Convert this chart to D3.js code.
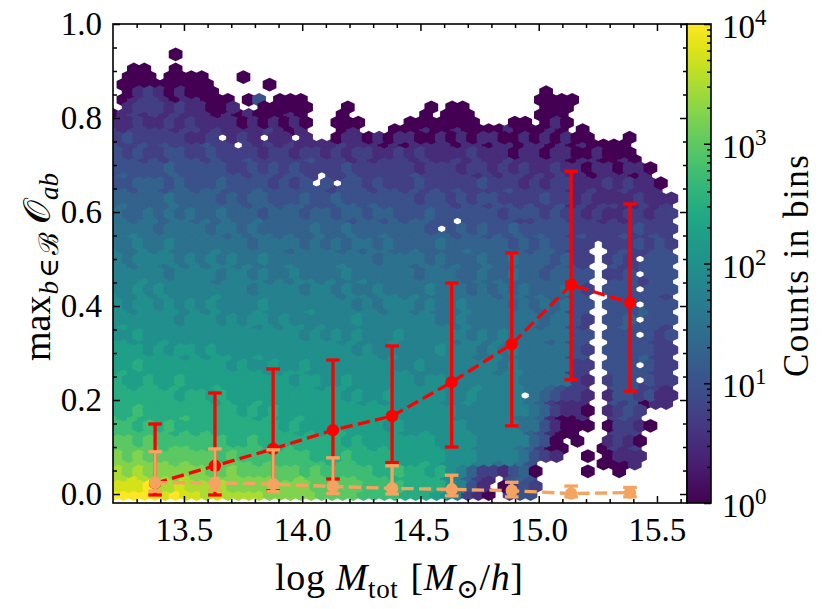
<!DOCTYPE html>
<html>
<head>
<meta charset="utf-8">
<script src="https://cdn.jsdelivr.net/npm/d3@7"></script>
<style>
  html, body { margin: 0; padding: 0; background: #fff; }
  #main-frame { width: 829px; height: 609px; }
  text { font-family: "Liberation Serif", "DejaVu Serif", serif; fill: #000; }
</style>
</head>
<body>
<div id="main-frame"></div>
<script>
// hexbin counts, one string per hex row, top row first.
// each letter is a colour step (see levelLogCounts), "." = empty bin, spaces only for reading
var hexRows = [
  ".... ..a. .... .... .... .... .... .... .... .... .... .... .... ....",
  ".... .... .... .... .... .... .... .... .... .... .... .... .... ....",
  "..aa ..a. .... .... .... .... .... .... .... .... .... .... .... ....",
  ".aaa .aaa a... a... .... .... .... .... .... .... .... .... .... ....",
  ".aaa aaaa aa.. ...a .... .... .... .... .... .... .... .... .... ....",
  ".abc baba aa.. .... .... .... .... .... .... .... .a.. .... .... ....",
  ".abc cbab baaa .ad. aaa. .... .... .... .... .... .aaa a... .... ....",
  ".bcc cbcb baab ..aa aaa. ..a. .... ..a. aa.. .... .aaa .... .... ....",
  "abcb cbcb bbab abaa aba. ..a. .... ..a. aaa. .... .aaa .... .... ....",
  "bbcb bcbc bbbb abab aba. .aaa .... aaaa aaa. ..aa .aba .... .... ....",
  "cbcc ccbc cbcb bbbc bab. ..ab ...a aaba abaa aaba aaba .a.. .... ....",
  "cdcc cccb bc.b cb.b b.b. .abb abab baab abab baab abab aa.. .a.. ....",
  "dccd cdcc cdcc .cbc bcbb bbcb bbab abbb babb abba bbab abaa aa.. ....",
  "dcdc cddc cdcc ccbc cbcc bcbc cbbc bcbb bbcb bbab babb aaba aa.. ....",
  "dddc dcdd dcdc cdcc cccd cccb cbcc cbcb bcbc bbcb bbbb abba aba. ....",
  "dddd dedd dddc cdcd cdcc ccdc cccc cbcc cbcc bcbc bbcb babb abba ....",
  "dedd dded dddd dcdd cddc .ccd cccc cdcc cccb cbcc bcbc bbab bbab ....",
  "ddee eded dded dddc dcd. d.dd cdcc cdcc cccd cccb cbcc bbbc bcbb a...",
  "eede edee deed dded dddd dcdd dcdd cdcd cdcc ccdc cccc bbcb bcbb b...",
  "eeee efee eede deed dded dedd dddd dcdd cdcd dccc cdcc bcbb bbcb bb..",
  "efee eefe eeee edee deed ddee dedd dddd dcdd cddc dccd bcbc cbbc bc..",
  "feef efef eefe eede eede edee deed dded dddd dcdd dcdc cbcb bccb cc..",
  "ffef feff efef eefe eeee eeed eede deed d.dd dddc cddd cccb cbcc cc..",
  "ffff efff feff efee eeef eefe eeee eed. dede dded dddd cccc ccdc cc..",
  "ffgf ffff fffe feff efee feef eefe eeee edee dede dedd cdcc cdcc dc..",
  "ffgf fgff ffff feff ffef efef fefe eeef eeee eede dedd cc.c ccdc dc..",
  "gffg fgff ffgf ffff feff ffef effe efee eefe eeee deed cc.. cdcc dd..",
  "gfgg ggfg fgfg ffgf ffff ffff feff ffef eeef eefe eede cc.c dc.d dd..",
  "ggfg gfgf gfgg fgff fgff ffgf ffff feff efee feee eede dc.. dccd dd..",
  "gggg gfgg ggfg gfgf fgff ffgf ffff feff feef eefe edee dd.c cd.d dd..",
  "gggh gggg ggfg gggf gfgg fgff gfff ffff ffef efee eeee cd.. dddc dd..",
  "gghg hggg gggg gfgg ggfg gfgf fgff ffgf ffef efef eeef dc.d dd.d dd..",
  "hggh ghgg gghg gggg gggg ggfg gfgg fgff ffff feff efee dd.. dddd dc..",
  "hghh ghgh ghgg gghg gggg gggf gfgg gfgf fgff ffef efef dd.d dd.d dd..",
  "hhgh hhhg hghg gghg gggh gggg ggfg gfgf ffgf ffff feef dd.. ddde dd..",
  "hhhh hhgh hhgh ghhg hggg gggh gggg gggf fgff ffff feff dc.d de.d dd..",
  "hihh hhhh hhhh hhgh ghhg hggg gggg gggg gfgf ffff feff dc.. dedd dc..",
  "hhih hhhh hhhh hhhh hhgh ghgh gggh gggg ggfg fgff ffff dd.d dd.d cd..",
  "iihh hihh hhhh hhhh hhhh hhgh gggh gggg gfgg fgff ffef dd.. dddd cc..",
  "iiih ihii hihh hhhh hhhh hhhg hggg gggh gggf gfgf ffff dc.d dddd cc..",
  "iiii iiih ihii hhih hhhh hhhh hhgh gggg gggf fgff ffff dd.. ddde cc..",
  "iiji iiii iiih ihhi hhih hhhh hhhg ghgg gggg gfgf ffff cc.d dd.d cc..",
  "ijii iiii iiii iiih hiih hhhh hhhh hggg gggg gfgg ffff cc.. dddd cc..",
  "jiij iiji iiii iiii ihii hhih hhhh hghh gggg gggf ffff cb.c dd.d cc..",
  "jjij jiji iiji iiii iiii hiih hhhh hhhh gggh gggg ffed cc.. dddc cb..",
  "jjjj jjij jiji iiii iiii iihi hhih hhhh gghg ggg. fedc cb.b ddcd bb..",
  "jjjj jjjj jjij iiji iiii iiii hihh hhhh gghg gggg fecb bb.. dcda bb..",
  "jjkj jjjj jjjj ijij iiii iiii iiih hhhh hggg gggg fecb ba.b cdc. ....",
  "kjkj jjjk jjjj jjij iiji iiii iiih hhhh hggg gggf feba ab.. cdc. ....",
  "kkjk jkjj jjjj jjjj ijii iiii iihi hhhh hhgg gggf fdba aa.a ccba ....",
  "kkkk kkjk jkjj jjjj jjij iiji iiii hhih hhhg gggg edba a... ccc. ....",
  "llkl kkkk kkkj jkjj jjjj jjij iiii iiih hhhg gggg eda. a..b cba. ....",
  "llll lkll kkkk kkkj jkjj jjjj jiji iiii hhhg gggf ecaa ...a cbc. ....",
  "mlml llll llkl kkkk kkkj jjkj jjji iiii hhhg gggf dcb. .a.a bbb. ....",
  "mmmm mmlm llll llkl kkkk kjkk jjjj iiji hhhg gfgf d... ...a aab. ....",
  "nmnm mmmm mllm llll llkl kkkk kjjk jjij hgec cbde a... .a.. a... ....",
  "nnon nnmn mmmm mmmm llml llll kkkj jjjj hgec b.de d... .... .... ....",
  "ooop nnon nnnm mmmn mmml llll kkkk jjjj hgdb .acd c... .... .... ....",
  "pqqp popo onon nnnm mmmm llll kkkk jjji hgcb a.cd d... .... .... ...."
];
var levelKeys = "abcdefghijklmnopq";
// log10(count in bin) for each key
var levelLogCounts = [0, 0.5, 0.75, 1.0, 1.25, 1.5, 1.75, 2.0, 2.25, 2.5, 2.75, 3.0, 3.25, 3.5, 3.75, 4.0, 4.0];

// lattice of the original hexbin
var binXmin = 13.2;
var binXmax = 15.627;
var binNx = 55;
var binDy = 1 / 31;

// binned medians with error bars
var massBins = [13.378, 13.631, 13.877, 14.130, 14.380, 14.632, 14.886, 15.137, 15.386];
var maxOverlap = [0.023, 0.060, 0.096, 0.136, 0.166, 0.238, 0.319, 0.445, 0.407];
var maxOverlapLo = [-0.002, -0.002, 0.007, 0.032, 0.067, 0.100, 0.145, 0.243, 0.219];
var maxOverlapHi = [0.149, 0.215, 0.266, 0.285, 0.315, 0.449, 0.513, 0.687, 0.617];
var meanOverlap = [0.024, 0.024, 0.021, 0.016, 0.012, 0.010, 0.007, 0.001, 0.003];
var meanOverlapLo = [0.006, 0.008, 0.005, 0.001, 0.000, -0.004, -0.006, -0.006, -0.006];
var meanOverlapHi = [0.090, 0.096, 0.094, 0.077, 0.060, 0.040, 0.025, 0.017, 0.014];

var xTicks = [13.5, 14.0, 14.5, 15.0, 15.5];
var yTicks = [0.0, 0.2, 0.4, 0.6, 0.8, 1.0];
var cbarTicks = [1, 10, 100, 1000, 10000];
var cbarExponents = ["0", "1", "2", "3", "4"];

var plot = {left: 113, right: 687, top: 24, bottom: 503};
var cbar = {left: 687, right: 711};

var mainSVG = d3.select("#main-frame").append("svg")
  .attr("width", 829)
  .attr("height", 609);

var x = d3.scaleLinear().domain([binXmin, binXmax]).range([plot.left, plot.right]);
var y = d3.scaleLinear().domain([-0.0191, 1]).range([plot.bottom, plot.top]);
var color = d3.scaleSequentialLog(d3.interpolateViridis).domain([1, 1e4]);

mainSVG.append("clipPath").attr("id", "plot-clip")
  .append("rect")
  .attr("x", plot.left).attr("y", plot.top)
  .attr("width", plot.right - plot.left).attr("height", plot.bottom - plot.top);

var plotArea = mainSVG.append("g").attr("clip-path", "url(#plot-clip)");

// hex cells
var binDx = (binXmax - binXmin) / binNx;
var cells = [];
hexRows.forEach(function(row, r) {
  var k = hexRows.length - 1 - r;
  var str = row.replace(/ /g, "");
  for (var i = 0; i < str.length; i++) {
    var lv = levelKeys.indexOf(str[i]);
    if (lv < 0) continue;
    cells.push({
      cx: binXmin + (i + (k % 2) * 0.5) * binDx,
      cy: k * binDy / 2,
      count: Math.pow(10, levelLogCounts[lv]),
      odd: k % 2
    });
  }
});
cells.sort(function(a, b) { return a.odd - b.odd; });

var hexW = x(binXmin + binDx) - x(binXmin);
var hexH = y(0) - y(binDy);
var hexPath = "M" + [[0.5, -1/6], [0.5, 1/6], [0, 1/3], [-0.5, 1/6], [-0.5, -1/6], [0, -1/3]]
  .map(function(p) { return [p[0] * hexW, p[1] * hexH].join(","); }).join("L") + "Z";

plotArea.append("g").selectAll("path")
  .data(cells)
  .enter().append("path")
  .attr("d", hexPath)
  .attr("transform", function(d) { return "translate(" + x(d.cx) + "," + y(d.cy) + ")"; })
  .attr("fill", function(d) { return color(d.count); })
  .attr("stroke", function(d) { return color(d.count); })
  .attr("stroke-width", 3.3);

function drawErrorbar(vals, lo, hi, col) {
  var layer = plotArea.append("g");
  massBins.forEach(function(m, i) {
    layer.append("line")
      .attr("x1", x(m)).attr("x2", x(m))
      .attr("y1", y(lo[i])).attr("y2", y(hi[i]))
      .attr("stroke", col).attr("stroke-width", 3.3);
    [lo[i], hi[i]].forEach(function(v) {
      layer.append("line")
        .attr("x1", x(m) - 6.8).attr("x2", x(m) + 6.8)
        .attr("y1", y(v)).attr("y2", y(v))
        .attr("stroke", col).attr("stroke-width", 3.3);
    });
  });
  layer.append("path")
    .datum(d3.zip(massBins, vals))
    .attr("d", d3.line().x(function(d) { return x(d[0]); }).y(function(d) { return y(d[1]); }))
    .attr("fill", "none")
    .attr("stroke", col)
    .attr("stroke-width", 3.3)
    .attr("stroke-dasharray", "12.3,5.3");
  layer.selectAll("circle")
    .data(d3.zip(massBins, vals))
    .enter().append("circle")
    .attr("cx", function(d) { return x(d[0]); })
    .attr("cy", function(d) { return y(d[1]); })
    .attr("r", 6.2)
    .attr("fill", col);
}

drawErrorbar(maxOverlap, maxOverlapLo, maxOverlapHi, "red");
drawErrorbar(meanOverlap, meanOverlapLo, meanOverlapHi, "sandybrown");

// axes, ticks pointing inwards on all four sides
function styleAxis(g) {
  g.select(".domain").remove();
  g.attr("font-family", null).attr("font-size", 33);
  g.selectAll(".tick line").attr("stroke", "#000").attr("stroke-width", 1.5);
}

var xMinor = d3.range(13.3, 15.65, 0.1).filter(function(v) { return Math.abs(v * 2 - Math.round(v * 2)) > 1e-6; });
var yMinor = d3.range(0, 1.001, 0.05).filter(function(v) { return Math.abs(v * 5 - Math.round(v * 5)) > 1e-6; });

mainSVG.append("g").attr("transform", "translate(0," + plot.bottom + ")")
  .call(d3.axisBottom(x).tickValues(xTicks).tickFormat(d3.format(".1f")).tickSize(-7).tickPadding(15))
  .call(styleAxis);
mainSVG.append("g").attr("transform", "translate(0," + plot.bottom + ")")
  .call(d3.axisBottom(x).tickValues(xMinor).tickFormat("").tickSize(-4))
  .call(styleAxis);
mainSVG.append("g").attr("transform", "translate(0," + plot.top + ")")
  .call(d3.axisTop(x).tickValues(xTicks).tickFormat("").tickSize(-7))
  .call(styleAxis);
mainSVG.append("g").attr("transform", "translate(0," + plot.top + ")")
  .call(d3.axisTop(x).tickValues(xMinor).tickFormat("").tickSize(-4))
  .call(styleAxis);
mainSVG.append("g").attr("transform", "translate(" + plot.left + ",0)")
  .call(d3.axisLeft(y).tickValues(yTicks).tickFormat(d3.format(".1f")).tickSize(-7).tickPadding(11))
  .call(styleAxis);
mainSVG.append("g").attr("transform", "translate(" + plot.left + ",0)")
  .call(d3.axisLeft(y).tickValues(yMinor).tickFormat("").tickSize(-4))
  .call(styleAxis);
mainSVG.append("g").attr("transform", "translate(" + plot.right + ",0)")
  .call(d3.axisRight(y).tickValues(yTicks).tickFormat("").tickSize(-7))
  .call(styleAxis);
mainSVG.append("g").attr("transform", "translate(" + plot.right + ",0)")
  .call(d3.axisRight(y).tickValues(yMinor).tickFormat("").tickSize(-4))
  .call(styleAxis);

mainSVG.append("rect")
  .attr("x", plot.left).attr("y", plot.top)
  .attr("width", plot.right - plot.left).attr("height", plot.bottom - plot.top)
  .attr("fill", "none").attr("stroke", "#000").attr("stroke-width", 1.6);

// colorbar
var cScale = d3.scaleLog().domain([1, 1e4]).range([plot.bottom, plot.top]);
var grad = mainSVG.append("defs").append("linearGradient")
  .attr("id", "viridis-bar")
  .attr("x1", 0).attr("y1", 1).attr("x2", 0).attr("y2", 0);
d3.range(0, 1.0001, 0.05).forEach(function(t) {
  grad.append("stop").attr("offset", t).attr("stop-color", d3.interpolateViridis(t));
});
mainSVG.append("rect")
  .attr("x", cbar.left).attr("y", plot.top)
  .attr("width", cbar.right - cbar.left).attr("height", plot.bottom - plot.top)
  .attr("fill", "url(#viridis-bar)");

var cMinor = [];
[1, 10, 100, 1000].forEach(function(dec) {
  for (var m = 2; m <= 9; m++) cMinor.push(dec * m);
});
mainSVG.append("g").attr("transform", "translate(" + cbar.right + ",0)")
  .call(d3.axisRight(cScale).tickValues(cMinor).tickFormat("").tickSize(-4))
  .call(styleAxis);
var cAxis = mainSVG.append("g").attr("transform", "translate(" + cbar.right + ",0)")
  .call(d3.axisRight(cScale).tickValues(cbarTicks).tickFormat("").tickSize(-7).tickPadding(11))
  .call(styleAxis);
cAxis.selectAll(".tick text").each(function(d, i) {
  var t = d3.select(this).attr("dy", "0.41em");
  t.append("tspan").text("10");
  t.append("tspan").attr("dy", -13).attr("font-size", 23).text(cbarExponents[i]);
});

mainSVG.append("rect")
  .attr("x", cbar.left).attr("y", plot.top)
  .attr("width", cbar.right - cbar.left).attr("height", plot.bottom - plot.top)
  .attr("fill", "none").attr("stroke", "#000").attr("stroke-width", 1.6);

// labels
var xLabel = mainSVG.append("text")
  .attr("x", 399).attr("y", 590)
  .attr("text-anchor", "middle").attr("font-size", 38)
  .attr("textLength", 248).attr("lengthAdjust", "spacing");
xLabel.append("tspan").text("log ");
xLabel.append("tspan").attr("font-style", "italic").text("M");
xLabel.append("tspan").attr("font-size", 27).attr("dy", 8).text("tot");
xLabel.append("tspan").attr("dy", -8).attr("dx", 12).text("[");
xLabel.append("tspan").attr("font-style", "italic").text("M");
xLabel.append("tspan").attr("font-size", 27).attr("dy", 8).text("\u2299");
xLabel.append("tspan").attr("dy", -8).text("/");
xLabel.append("tspan").attr("font-style", "italic").text("h");
xLabel.append("tspan").text("]");

var yLabel = mainSVG.append("text")
  .attr("transform", "translate(50,267) rotate(-90)")
  .attr("text-anchor", "middle").attr("font-size", 38);
yLabel.append("tspan").text("max");
yLabel.append("tspan").attr("font-size", 27).attr("dy", 8).attr("dx", 1).attr("font-style", "italic").text("b");
yLabel.append("tspan").attr("font-size", 27).attr("dx", 3).text("\u2208");
yLabel.append("tspan").attr("font-size", 27).attr("dx", 3).text("\u212C");
yLabel.append("tspan").attr("dy", -8).attr("dx", 8).text("\uD835\uDCAA");
yLabel.append("tspan").attr("font-size", 27).attr("dy", 8).attr("font-style", "italic").text("ab");

mainSVG.append("text")
  .attr("transform", "translate(808,266) rotate(-90)")
  .attr("text-anchor", "middle").attr("font-size", 35)
  .attr("textLength", 222).attr("lengthAdjust", "spacing")
  .text("Counts in bins");
</script>
</body>
</html>
